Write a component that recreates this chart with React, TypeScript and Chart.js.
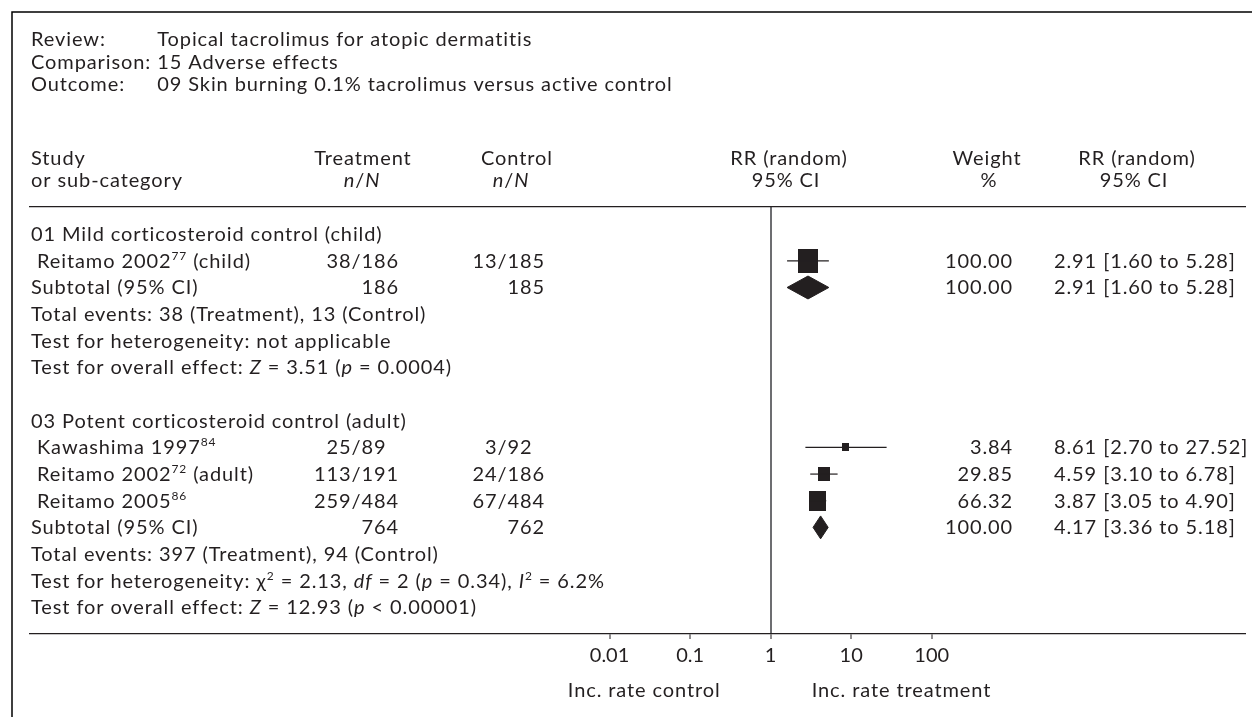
import React, { useEffect, useRef } from 'react';
import { Chart, registerables } from 'chart.js';

Chart.register(...registerables);

// ---------- data ----------
const headerLabels = ['Review:', 'Comparison:', 'Outcome:'];
const headerValues = ['Topical tacrolimus for atopic dermatitis', '15 Adverse effects', '09 Skin burning 0.1% tacrolimus versus active control'];

const groupLabels = ['01 Mild corticosteroid control (child)', '03 Potent corticosteroid control (adult)'];

const studyNames = ['Reitamo 2002', 'Kawashima 1997', 'Reitamo 2002', 'Reitamo 2005'];
const studyRefs = ['77', '84', '72', '86'];
const studySuffix = [' (child)', '', ' (adult)', ''];
const studyGroup = [0, 1, 1, 1];
const treatEvents = [38, 25, 113, 259];
const treatTotal = [186, 89, 191, 484];
const ctrlEvents = [13, 3, 24, 67];
const ctrlTotal = [185, 92, 186, 484];
const studyWeight = [100.0, 3.84, 29.85, 66.32];
const studyRR = [2.91, 8.61, 4.59, 3.87];
const studyLo = [1.6, 2.7, 3.1, 3.05];
const studyHi = [5.28, 27.52, 6.78, 4.9];

const subtotalTreat = [186, 764];
const subtotalCtrl = [185, 762];
const subtotalWeight = [100.0, 100.0];
const subtotalRR = [2.91, 4.17];
const subtotalLo = [1.6, 3.36];
const subtotalHi = [5.28, 5.18];

const eventsTreat = [38, 397];
const eventsCtrl = [13, 94];
const hetChi = [null, '2.13'];
const hetDf = [null, '2'];
const hetP = [null, '0.34'];
const hetI2 = [null, '6.2%'];
const overallZ = ['3.51', '12.93'];
const overallP = ['= 0.0004', '< 0.00001'];

const axisTicks = [0.01, 0.1, 1, 10, 100];
const axisSideLabels = ['Inc. rate control', 'Inc. rate treatment'];

// ---------- style ----------
const FONT = 'Lato';
const FS = 20;
const LS = '0.9px';
const INK = '#231f20';

type Seg = { t: string; st?: 'n' | 'i' | 's' };
const S = (t: string, st: 'n' | 'i' | 's' = 'n'): Seg => ({ t, st });

function fontOf(st?: string) {
  if (st === 'i') return `italic ${FS}px ${FONT}`;
  if (st === 's') return `${Math.round(FS * 0.62)}px ${FONT}`;
  return `${FS}px ${FONT}`;
}

function richWidth(ctx: CanvasRenderingContext2D, segs: Seg[]) {
  let total = 0;
  for (const s of segs) {
    ctx.font = fontOf(s.st);
    total += ctx.measureText(s.t).width;
  }
  return total;
}

function drawRich(ctx: CanvasRenderingContext2D, segs: Seg[], x: number, y: number, align: 'left' | 'center' | 'right' = 'left') {
  (ctx as any).letterSpacing = LS;
  const total = richWidth(ctx, segs);
  let cx = align === 'center' ? x - total / 2 : align === 'right' ? x - total : x;
  ctx.textAlign = 'left';
  ctx.textBaseline = 'alphabetic';
  for (const s of segs) {
    ctx.font = fontOf(s.st);
    ctx.fillText(s.t, cx, s.st === 's' ? y - FS * 0.4 : y);
    cx += ctx.measureText(s.t).width;
  }
  (ctx as any).letterSpacing = '0px';
}

type Row = { kind: string; g: number; s?: number };

function buildRows(): Row[] {
  const rows: Row[] = [];
  groupLabels.forEach((_, g) => {
    if (g > 0) rows.push({ kind: 'blank', g });
    rows.push({ kind: 'group', g });
    studyGroup.forEach((sg, s) => {
      if (sg === g) rows.push({ kind: 'study', g, s });
    });
    rows.push({ kind: 'subtotal', g });
    rows.push({ kind: 'events', g });
    rows.push({ kind: 'het', g });
    rows.push({ kind: 'overall', g });
  });
  return rows;
}

function makeSquare(weight: number) {
  const w = Math.round(4 + 1.55 * Math.sqrt(weight));
  const h = Math.round(w * 1.2);
  const c = document.createElement('canvas');
  c.width = w;
  c.height = h;
  const cx = c.getContext('2d')!;
  cx.fillStyle = INK;
  cx.fillRect(0, 0, w, h);
  return c;
}

export default function App() {
  const ref = useRef<HTMLCanvasElement>(null);

  useEffect(() => {
    const rows = buildRows();
    const datasets: any[] = [];

    // confidence interval lines
    rows.forEach((r, i) => {
      if (r.kind === 'study') {
        const s = r.s!;
        datasets.push({
          data: [{ x: studyLo[s], y: i }, { x: studyHi[s], y: i }],
          showLine: true,
          borderColor: INK,
          borderWidth: 1.2,
          pointRadius: 0,
          fill: false,
        });
      }
    });

    // squares
    const sqData: any[] = [];
    const sqStyles: any[] = [];
    rows.forEach((r, i) => {
      if (r.kind === 'study') {
        sqData.push({ x: studyRR[r.s!], y: i });
        sqStyles.push(makeSquare(studyWeight[r.s!]));
      }
    });
    datasets.push({ data: sqData, pointStyle: sqStyles, pointRadius: 6, showLine: false });

    // diamonds
    const DH = 0.43;
    rows.forEach((r, i) => {
      if (r.kind === 'subtotal') {
        const g = r.g;
        datasets.push({
          data: [{ x: subtotalLo[g], y: i }, { x: subtotalRR[g], y: i - DH }, { x: subtotalHi[g], y: i }],
          showLine: true, borderColor: INK, borderWidth: 1, pointRadius: 0, fill: false, tension: 0,
        });
        datasets.push({
          data: [{ x: subtotalLo[g], y: i }, { x: subtotalRR[g], y: i + DH }, { x: subtotalHi[g], y: i }],
          showLine: true, borderColor: INK, borderWidth: 1, pointRadius: 0, fill: '-1', backgroundColor: INK, tension: 0,
        });
      }
    });

    const framePlugin = {
      id: 'frame',
      beforeDraw(chart: any) {
        const ctx = chart.ctx as CanvasRenderingContext2D;
        ctx.save();
        ctx.fillStyle = '#ffffff';
        ctx.fillRect(0, 0, chart.width, chart.height);
        ctx.strokeStyle = '#000000';
        ctx.lineWidth = 1.5;
        ctx.beginPath();
        ctx.moveTo(12, chart.height);
        ctx.lineTo(12, 12);
        ctx.lineTo(chart.width, 12);
        ctx.stroke();
        ctx.restore();
      },
    };

    const textPlugin = {
      id: 'tableText',
      afterDraw(chart: any) {
        const ctx = chart.ctx as CanvasRenderingContext2D;
        const ys = chart.scales.y;
        const xs = chart.scales.x;
        ctx.save();
        ctx.fillStyle = INK;

        // header block: values start one space after the longest label
        (ctx as any).letterSpacing = LS;
        const valX = 31 + richWidth(ctx, [S('Comparison: ')]);
        (ctx as any).letterSpacing = '0px';
        const hb = [45.5, 68.5, 91];
        headerLabels.forEach((l, k) => {
          drawRich(ctx, [S(l)], 31, hb[k]);
          drawRich(ctx, [S(headerValues[k])], valX, hb[k]);
        });

        // column headings
        const c1 = 165, c2 = 187;
        drawRich(ctx, [S('Study')], 31, c1);
        drawRich(ctx, [S('or sub-category')], 31, c2);
        drawRich(ctx, [S('Treatment')], 363, c1, 'center');
        drawRich(ctx, [S('n', 'i'), S('/'), S('N', 'i')], 362, c2, 'center');
        drawRich(ctx, [S('Control')], 517, c1, 'center');
        drawRich(ctx, [S('n', 'i'), S('/'), S('N', 'i')], 511, c2, 'center');
        drawRich(ctx, [S('RR (random)')], 789, c1, 'center');
        drawRich(ctx, [S('95% CI')], 786, c2, 'center');
        drawRich(ctx, [S('Weight')], 987, c1, 'center');
        drawRich(ctx, [S('%')], 989, c2, 'center');
        drawRich(ctx, [S('RR (random)')], 1137, c1, 'center');
        drawRich(ctx, [S('95% CI')], 1134, c2, 'center');

        (ctx as any).letterSpacing = LS;
        ctx.font = fontOf('n');
        const digit3 = ctx.measureText('000').width;
        (ctx as any).letterSpacing = '0px';
        const TR = 399, CR = 545, WR = 1013, CIL = 1054;
        const slashT = TR - digit3;
        const slashC = CR - digit3;

        const fracDraw = (n: number, d: number, slashEnd: number, y: number) => {
          drawRich(ctx, [S(n + '/')], slashEnd, y, 'right');
          drawRich(ctx, [S(String(d))], slashEnd, y, 'left');
        };
        const ci = (rr: number, lo: number, hi: number) => `${rr.toFixed(2)} [${lo.toFixed(2)} to ${hi.toFixed(2)}]`;

        rows.forEach((r, i) => {
          const y = ys.getPixelForValue(i) + 7;
          const g = r.g;
          switch (r.kind) {
            case 'group':
              drawRich(ctx, [S(groupLabels[g])], 31, y);
              break;
            case 'study': {
              const s = r.s!;
              drawRich(ctx, [S(' ' + studyNames[s]), S(studyRefs[s], 's'), S(studySuffix[s])], 31, y);
              fracDraw(treatEvents[s], treatTotal[s], slashT, y);
              fracDraw(ctrlEvents[s], ctrlTotal[s], slashC, y);
              drawRich(ctx, [S(studyWeight[s].toFixed(2))], WR, y, 'right');
              drawRich(ctx, [S(ci(studyRR[s], studyLo[s], studyHi[s]))], CIL, y);
              break;
            }
            case 'subtotal':
              drawRich(ctx, [S('Subtotal (95% CI)')], 31, y);
              drawRich(ctx, [S(String(subtotalTreat[g]))], TR, y, 'right');
              drawRich(ctx, [S(String(subtotalCtrl[g]))], CR, y, 'right');
              drawRich(ctx, [S(subtotalWeight[g].toFixed(2))], WR, y, 'right');
              drawRich(ctx, [S(ci(subtotalRR[g], subtotalLo[g], subtotalHi[g]))], CIL, y);
              break;
            case 'events':
              drawRich(ctx, [S(`Total events: ${eventsTreat[g]} (Treatment), ${eventsCtrl[g]} (Control)`)], 31, y);
              break;
            case 'het':
              if (hetChi[g] == null) {
                drawRich(ctx, [S('Test for heterogeneity: not applicable')], 31, y);
              } else {
                drawRich(ctx, [
                  S('Test for heterogeneity: \u03c7'), S('2', 's'), S(` = ${hetChi[g]}, `), S('df', 'i'),
                  S(` = ${hetDf[g]} (`), S('p', 'i'), S(` = ${hetP[g]}), `), S('I', 'i'), S('2', 's'), S(` = ${hetI2[g]}`),
                ], 31, y);
              }
              break;
            case 'overall':
              drawRich(ctx, [S('Test for overall effect: '), S('Z', 'i'), S(` = ${overallZ[g]} (`), S('p', 'i'), S(` ${overallP[g]})`)], 31, y);
              break;
          }
        });

        // side labels under the axis
        const x1 = xs.getPixelForValue(1);
        drawRich(ctx, [S(axisSideLabels[0])], x1 - 50, 697, 'right');
        drawRich(ctx, [S(axisSideLabels[1])], x1 + 41, 697, 'left');
        ctx.restore();
      },
    };

    const X_MIN = Math.pow(10, -9.195);
    const X_MAX = Math.pow(10, 5.889);

    const chart = new Chart(ref.current!, {
      type: 'scatter',
      data: { datasets },
      options: {
        animation: false,
        responsive: false,
        devicePixelRatio: 1,
        events: [],
        layout: { padding: { left: 30, right: 4, top: 207, bottom: 43 } },
        plugins: { legend: { display: false }, tooltip: { enabled: false } },
        scales: {
          x: {
            type: 'logarithmic',
            position: 'bottom',
            min: X_MIN,
            max: X_MAX,
            afterBuildTicks: (s: any) => {
              s.ticks = axisTicks.map((v) => ({ value: v }));
            },
            afterFit: (s: any) => {
              s.height = 40;
            },
            ticks: {
              autoSkip: false,
              maxRotation: 0,
              padding: 5,
              color: INK,
              font: { family: FONT, size: 20 },
              callback: (v: any) => String(v),
            },
            grid: {
              color: (c: any) => (c.tick && c.tick.value === 1 ? '#6d6e71' : 'rgba(0,0,0,0)'),
              lineWidth: 2,
              tickColor: INK,
              tickWidth: 1,
              tickLength: 5,
              drawOnChartArea: true,
            },
            border: { display: true, color: INK, width: 1.3 },
          },
          xTop: {
            type: 'logarithmic',
            axis: 'x',
            position: 'top',
            min: X_MIN,
            max: X_MAX,
            afterFit: (s: any) => {
              s.height = 0;
            },
            ticks: { display: false },
            grid: { display: false, drawTicks: false },
            border: { display: true, color: INK, width: 1.3 },
          },
          y: {
            type: 'linear',
            display: false,
            reverse: true,
            min: -1.02,
            max: 15.0,
          },
        },
      } as any,
      plugins: [framePlugin, textPlugin],
    } as any);

    return () => chart.destroy();
  }, []);

  return (
    <div style={{ position: 'fixed', left: 0, top: 0, width: 1252, height: 717, background: '#fff' }}>
      <canvas ref={ref} width={1252} height={717} style={{ display: 'block', width: 1252, height: 717 }} />
    </div>
  );
}
